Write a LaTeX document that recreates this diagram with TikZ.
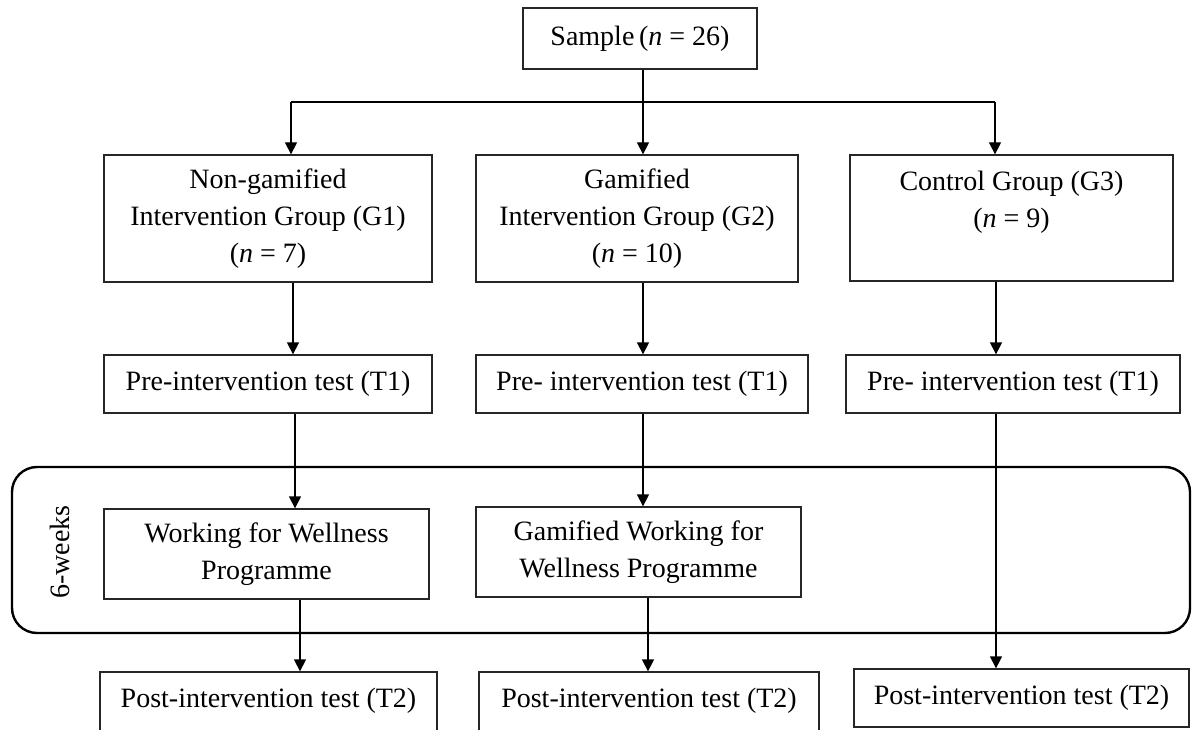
\documentclass[tikz,border=0pt]{standalone}
\usepackage{fontspec}
\setmainfont{Liberation Serif}
\usetikzlibrary{arrows.meta}
\begin{document}
\begin{tikzpicture}[x=1pt,y=-1pt,
  box/.style={draw=black!85,line width=1.3pt,inner sep=0pt,align=center,font=\fontsize{28}{37}\selectfont},
  arr/.style={line width=1.3pt,-{Triangle[length=12pt,width=12pt]}},
  ln/.style={line width=1.3pt}]
\useasboundingbox (0,0) rectangle (1193,730);
% nodes
\node[box,minimum width=234pt,minimum height=61pt] (sample) at (640,38.5) {Sample\,(\textit{n} = 26)};
\node[box,minimum width=328pt,minimum height=127pt] (g1) at (268,218.5) {Non-gamified\\Intervention Group (G1)\\(\textit{n} = 7)};
\node[box,minimum width=322pt,minimum height=127pt] (g2) at (637,218.5) {Gamified\\Intervention Group (G2)\\(\textit{n} = 10)};
\node[box,minimum width=323pt,minimum height=126pt] (g3) at (1011.5,218) {Control Group (G3)\\(\textit{n} = 9)\\\mbox{}};
\node[box,minimum width=328pt,minimum height=58pt] (pre1) at (268,384) {Pre-intervention test (T1)};
\node[box,minimum width=332pt,minimum height=58pt] (pre2) at (642,384) {Pre- intervention test (T1)};
\node[box,minimum width=334pt,minimum height=58pt] (pre3) at (1013,384) {Pre- intervention test (T1)};
% 6-week frame
\draw[line width=2.4pt,rounded corners=25pt] (12,467) rectangle (1190,633);
\node[font=\fontsize{28}{37}\selectfont,rotate=90,inner sep=0pt] (weeks) at (60,552) {6-weeks};
\node[box,minimum width=325pt,minimum height=90pt] (wfw) at (266.5,554) {Working for Wellness\\Programme};
\node[box,minimum width=325pt,minimum height=90pt] (gwfw) at (638.5,552) {Gamified Working for\\Wellness Programme};
% post
\node[box,minimum width=337pt,minimum height=63pt] (post1) at (268.5,703.5) {\raisebox{12pt}{Post-intervention test (T2)}};
\node[box,minimum width=340pt,minimum height=63pt] (post2) at (649,703.5) {\raisebox{12pt}{Post-intervention test (T2)}};
\node[box,minimum width=335pt,minimum height=58pt] (post3) at (1021.5,698) {Post-intervention test (T2)};
% connectors
\coordinate (j1) at (291,102);
\coordinate (j2) at (643,102);
\coordinate (j3) at (995,102);
\draw[ln] (j1) -- (j3);
\draw[ln] (sample.south -| j2) -- (j2);
\draw[arr] (j1) -- (j1 |- g1.north);
\draw[arr] (j2) -- (j2 |- g2.north);
\draw[arr] (j3) -- (j3 |- g3.north);
\coordinate (c1) at (293,0);
\coordinate (c2) at (643,0);
\coordinate (c3) at (996,0);
\draw[arr] (c1 |- g1.south) -- (c1 |- pre1.north);
\draw[arr] (c2 |- g2.south) -- (c2 |- pre2.north);
\draw[arr] (c3 |- g3.south) -- (c3 |- pre3.north);
\coordinate (d1) at (295,0);
\draw[arr] (d1 |- pre1.south) -- (d1 |- wfw.north);
\draw[arr] (c2 |- pre2.south) -- (c2 |- gwfw.north);
\draw[arr] (c3 |- pre3.south) -- (c3 |- post3.north);
\coordinate (e1) at (300,0);
\coordinate (e2) at (648,0);
\draw[arr] (e1 |- wfw.south) -- (e1 |- post1.north);
\draw[arr] (e2 |- gwfw.south) -- (e2 |- post2.north);
\end{tikzpicture}
\end{document}
